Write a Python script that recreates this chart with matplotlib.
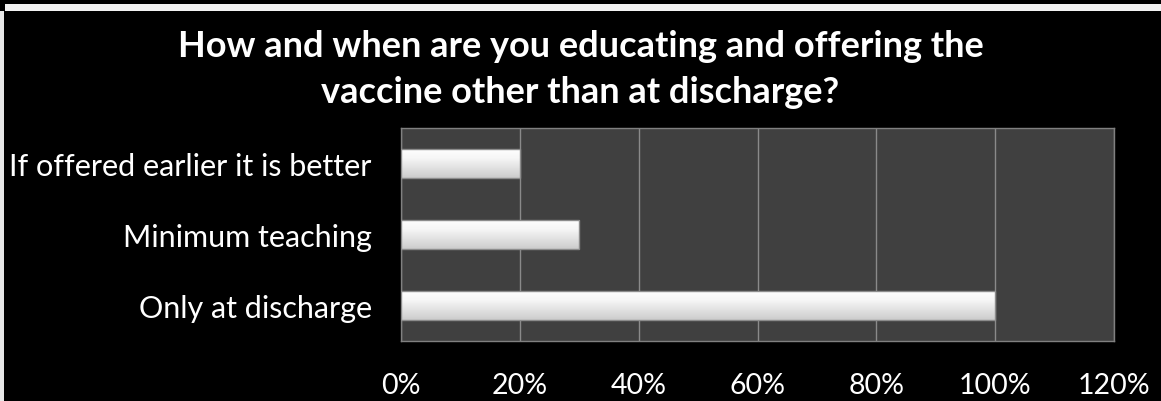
import matplotlib
matplotlib.use("Agg")
import matplotlib.pyplot as plt
import numpy as np
from matplotlib.patches import Rectangle

categories = ["Only at discharge", "Minimum teaching", "If offered earlier it is better"]
values = [1.00, 0.30, 0.20]
xticks = [0.0, 0.2, 0.4, 0.6, 0.8, 1.0, 1.2]
xtick_labels = ["0%", "20%", "40%", "60%", "80%", "100%", "120%"]
title_lines = ["How and when are you educating and offering the",
               "vaccine other than at discharge?"]

W, H = 1161, 402
fig = plt.figure(figsize=(W / 100, H / 100), dpi=100, facecolor="black")

# white frame strips
fig.patches.append(Rectangle((5 / W, 1 - 12 / H), 1, 7 / H, transform=fig.transFigure,
                             facecolor="#f2f2f2", edgecolor="none"))
fig.patches.append(Rectangle((0, 0), 4 / W, 1 - 12 / H, transform=fig.transFigure,
                             facecolor="#e8e8e8", edgecolor="none"))

ax = fig.add_axes([401 / W, 60 / H, 713 / W, 213 / H])
ax.set_facecolor("#404040")
ax.set_xlim(0, 1.2)
ax.set_ylim(-0.5, len(categories) - 0.5)

bar_h = 0.42
grad = np.concatenate([np.linspace(1.0, 0.97, 20), np.linspace(0.97, 0.80, 44)]).reshape(-1, 1)
grad = np.dstack([grad, grad, grad])
for i, v in enumerate(values):
    y0, y1 = i - bar_h / 2, i + bar_h / 2
    im = ax.imshow(grad, extent=[0, v, y0, y1], aspect="auto", origin="upper",
                   zorder=3, interpolation="bilinear")
    r = Rectangle((0, y0), v, bar_h, facecolor="none", edgecolor="#8c8c8c",
                  linewidth=1.0, zorder=4)
    ax.add_patch(r)
    im.set_clip_path(r)

ax.set_xticks(xticks)
ax.set_xticklabels(xtick_labels)
ax.set_yticks(range(len(categories)))
ax.set_yticklabels(categories)
ax.grid(axis="x", color="#8a8a8a", linewidth=1.0, zorder=1)
ax.set_axisbelow(True)
ax.tick_params(length=0, colors="white")
ax.tick_params(axis="x", pad=22, labelsize=20.5)
ax.tick_params(axis="y", pad=21, labelsize=22)
for lab in ax.get_xticklabels() + ax.get_yticklabels():
    lab.set_fontfamily("Lato")
    lab.set_color("white")
for s in ax.spines.values():
    s.set_color("#808080")
    s.set_linewidth(1.0)

for k, (line, yb) in enumerate(zip(title_lines, [57, 103])):
    fig.text(0.5, 1 - yb / H, line, ha="center", va="baseline", color="white",
             fontsize=26, fontweight="bold", family="Lato")

fig.savefig("out.png", dpi=100, facecolor="black")
